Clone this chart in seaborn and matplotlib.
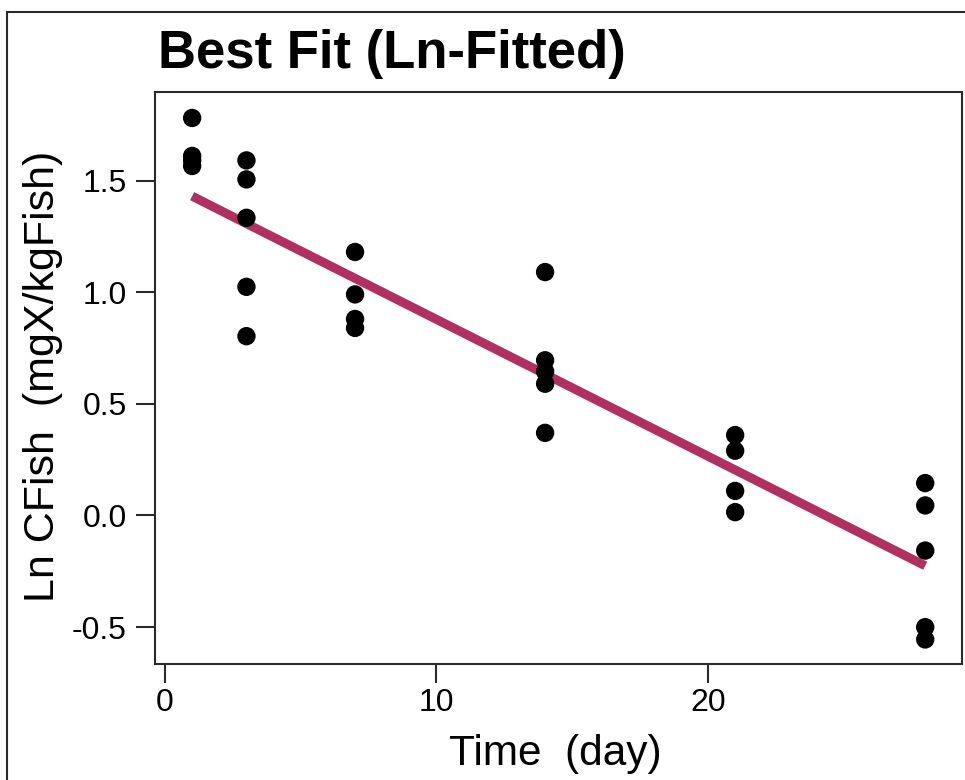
import matplotlib
matplotlib.use("Agg")
import matplotlib.pyplot as plt
from matplotlib.lines import Line2D
import seaborn as sns
import pandas as pd

# ---- data ----
day = [1, 1, 1, 1,
       3, 3, 3, 3, 3,
       7, 7, 7, 7,
       14, 14, 14, 14, 14,
       21, 21, 21, 21,
       28, 28, 28, 28, 28]
ln_cfish = [1.78, 1.61, 1.59, 1.565,
            1.59, 1.505, 1.333, 1.024, 0.803,
            1.18, 0.99, 0.88, 0.84,
            1.09, 0.695, 0.645, 0.59, 0.37,
            0.36, 0.29, 0.11, 0.015,
            0.145, 0.045, -0.157, -0.50, -0.555]
fit_day = [1, 3, 7, 14, 21, 28]
fit_ln = [1.43, 1.307, 1.062, 0.633, 0.204, -0.225]

x_ticks = [0, 10, 20]
y_ticks = [-0.5, 0.0, 0.5, 1.0, 1.5]
title = "Best Fit (Ln-Fitted)"
x_label = "Time  (day)"
y_label = "Ln CFish  (mgX/kgFish)"

obs = pd.DataFrame({"day": day, "ln": ln_cfish})
fit = pd.DataFrame({"day": fit_day, "ln": fit_ln})

sns.set_style("ticks")
plt.rcParams["font.family"] = ["Liberation Sans", "DejaVu Sans"]
plt.rcParams["text.color"] = "black"
plt.rcParams["axes.labelcolor"] = "black"

W, H = 965, 780
fig = plt.figure(figsize=(W / 100, H / 100), dpi=100)
fig.patch.set_facecolor("white")

L, R, B, T = 155, 962, 664, 92.3
ax = fig.add_axes([L / W, 1 - B / H, (R - L) / W, (B - T) / H])

sns.lineplot(data=fit, x="day", y="ln", ax=ax, color="#B03060",
             linewidth=6.5, solid_capstyle="butt", zorder=2)
sns.scatterplot(data=obs, x="day", y="ln", ax=ax, color="black",
                s=175, linewidth=0, edgecolor="none", zorder=3)

ax.set_xlim(-0.368, 29.355)
ax.set_ylim(-0.665, 1.895)
ax.set_xticks(x_ticks)
ax.set_yticks(y_ticks)
ax.set_xticklabels([str(v) for v in x_ticks])
ax.set_yticklabels([f"{v:.1f}" for v in y_ticks])

for s in ax.spines.values():
    s.set_visible(True)
    s.set_linewidth(1.5)
    s.set_color("#2a2a2a")
ax.tick_params(axis="both", direction="out", length=13.5, width=1.5,
               color="#2a2a2a", labelsize=23, labelcolor="black")
ax.tick_params(axis="x", pad=4)
ax.tick_params(axis="y", pad=7)

ax.set_xlabel(x_label, fontsize=30.5, color="black")
ax.xaxis.set_label_coords((555 - L) / (R - L), (B - 765) / (B - T))
ax.xaxis.label.set_va("baseline")
ax.set_ylabel(y_label, fontsize=31, color="black")
ax.yaxis.set_label_coords((63 - L) / (R - L), (B - 376.5) / (B - T))

fig.text(158 / W, 1 - 68 / H, title, fontsize=38, fontweight="bold",
         ha="left", va="baseline", color="black")

# outer frame (left and top edges visible)
fig.add_artist(Line2D([7 / W, 7 / W], [-0.1, 1 - 12 / H], transform=fig.transFigure,
                      color="#2a2a2a", linewidth=1.5))
fig.add_artist(Line2D([7 / W, 1.1], [1 - 12 / H, 1 - 12 / H], transform=fig.transFigure,
                      color="#2a2a2a", linewidth=1.5))

fig.savefig("out.png", dpi=100)
